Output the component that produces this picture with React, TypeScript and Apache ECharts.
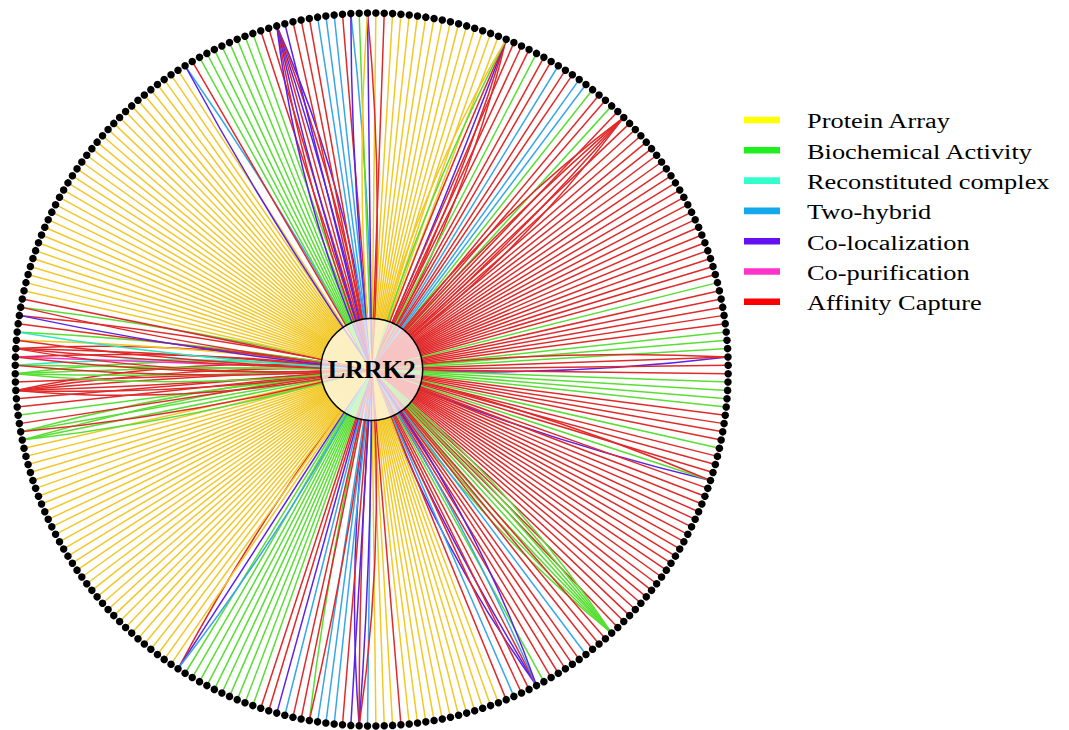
import React, { useEffect, useRef } from "react";
import * as echarts from "echarts";

// Evidence types (legend order)
const evidenceTypes = [
  "Protein Array",
  "Biochemical Activity",
  "Reconstituted complex",
  "Two-hybrid",
  "Co-localization",
  "Co-purification",
  "Affinity Capture",
];
const evidenceCodes = ["Y", "G", "C", "B", "P", "M", "R"];
const legendColors = ["#ffff00", "#1fef1f", "#33ffcc", "#14a8ec", "#6610f2", "#ff33cc", "#ff0000"];
const lineColors = ["#f2c828", "#5ade35", "#2ee8c4", "#38a6e8", "#5a22e8", "#f238c6", "#e02a2a"];

const hubName = "LRRK2";

// One string per interactor, clockwise from 12 o'clock.
// Each letter is one interaction record (evidence code) between LRRK2 and that interactor.
const interactorsNE = [
  "Y", "R", "Y", "Y", "Y", "Y", "Y", "Y", "Y", "Y", "Y", "Y", "Y", "Y", "Y", "Y",
  "RRPRGY", "R", "R", "R", "G", "R", "R", "B", "R", "R", "B", "B", "G", "R", "R", "G", "R", "RRRRR",
  "R", "R", "R", "R", "R", "R", "R", "R", "R", "R", "R", "R", "R", "R", "R", "R", "R", "R", "R", "R", "R", "R",
  "G", "R", "R", "R", "R", "R", "G", "G", "G", "PRR", "R",
];
const interactorsSE = [
  "R", "G", "G", "G", "G", "R", "R", "R", "R", "G", "R", "R", "R", "PGR",
  "R", "R", "R", "R", "R", "R", "R", "R", "R", "R", "R", "R", "R", "R", "R", "R", "R", "R", "R", "R", "R",
  "GGGGGGG", "R", "R", "R", "B", "R", "R", "R", "R", "R", "G", "PPRBP", "R", "R", "B", "R",
  "Y", "Y", "Y", "Y", "Y", "Y", "Y", "Y", "Y", "Y", "Y", "Y", "R", "Y", "Y", "Y",
];
const interactorsSW = [
  "B", "PRPR", "P", "R", "B", "B", "B", "GR", "R", "R", "B", "P", "R", "R",
  "G", "G", "G", "G", "G", "G", "G", "G", "G", "G", "RPB",
  "Y", "Y", "Y", "Y", "Y", "Y", "Y", "Y", "Y", "Y", "Y", "Y", "Y", "Y", "Y", "Y", "Y",
  "Y", "Y", "Y", "Y", "Y", "Y", "Y", "Y", "Y", "Y", "Y", "Y", "Y", "Y", "Y", "Y",
  "GGG", "GGR", "R", "G", "R", "R", "RRRRRR", "R", "GGGG",
];
const interactorsNW = [
  "CGR", "RMR", "RRRR", "YR", "GC", "R", "RP", "GR", "R",
  "Y", "Y", "Y", "Y", "Y", "Y", "Y", "Y", "Y", "Y", "Y", "Y", "Y", "Y", "Y", "Y", "Y",
  "Y", "Y", "Y", "Y", "Y", "Y", "Y", "Y", "Y", "Y", "Y", "Y", "Y", "Y", "Y", "Y", "Y",
  "BP", "R", "G", "G", "G", "G", "G", "G", "G", "G", "R", "R", "PRPRPRP", "P",
  "R", "R", "R", "B", "B", "B", "R", "BP", "G", "RPY",
];

export default function App() {
  const ref = useRef<HTMLDivElement>(null);

  useEffect(() => {
    if (!ref.current) return;
    const chart = echarts.init(ref.current, undefined, { renderer: "svg" });

    const interactors = [...interactorsNE, ...interactorsSE, ...interactorsSW, ...interactorsNW];
    const n = interactors.length;

    // dots: [radius, angle]
    const dotData = interactors.map((_, i) => [1, i + 0.5]);

    // edges: [radius(1), angle, curveness, typeIndex]
    const edgeData: number[][] = [];
    interactors.forEach((ev, i) => {
      const k = ev.length;
      const maxC = Math.min(0.075, 0.014 * k);
      ev.split("").forEach((code, j) => {
        const t = evidenceCodes.indexOf(code);
        const c = k === 1 ? 0 : maxC * ((2 * j) / (k - 1) - 1);
        edgeData.push([1, i + 0.5, c, t]);
      });
    });

    const legendTop = 120;
    const legendGap = 30.3;
    const graphic: any[] = [];
    evidenceTypes.forEach((t, i) => {
      graphic.push({
        type: "rect",
        shape: { x: 744, y: legendTop + i * legendGap - 3.3, width: 36, height: 6.6 },
        style: { fill: legendColors[i] },
      });
      graphic.push({
        type: "text",
        x: 807,
        y: legendTop + 1.5 + i * legendGap,
        scaleX: 1.32,
        style: {
          text: t,
          fontSize: 20,
          fontFamily: "Liberation Serif",
          fill: "#000",
          align: "left",
          verticalAlign: "middle",
        },
      });
    });

    chart.setOption({
      animation: false,
      backgroundColor: "#fff",
      graphic,
      polar: { center: [371.7, 369.5], radius: 356.5 },
      angleAxis: {
        type: "value",
        min: 0,
        max: n,
        startAngle: 90,
        clockwise: true,
        show: false,
        splitLine: { show: false },
      },
      radiusAxis: { type: "value", min: 0, max: 1, show: false, splitLine: { show: false } },
      series: [
        {
          type: "custom",
          coordinateSystem: "polar",
          silent: true,
          z: 1,
          data: edgeData,
          renderItem: (params: any, api: any) => {
            const ang = api.value(1);
            const c = api.value(2);
            const t = api.value(3);
            const p0 = api.coord([0, ang]);
            const p1 = api.coord([1, ang]);
            const cpx = (p0[0] + p1[0]) / 2 - (p0[1] - p1[1]) * c;
            const cpy = (p0[1] + p1[1]) / 2 - (p1[0] - p0[0]) * c;
            return {
              type: "bezierCurve",
              shape: { x1: p0[0], y1: p0[1], x2: p1[0], y2: p1[1], cpx1: cpx, cpy1: cpy },
              style: { stroke: lineColors[t], lineWidth: 1.5, fill: "none" },
            };
          },
        },
        {
          type: "scatter",
          coordinateSystem: "polar",
          silent: true,
          z: 2,
          symbol: "circle",
          symbolSize: 7.5,
          itemStyle: { color: "#000", opacity: 1 },
          data: dotData,
        },
        {
          type: "scatter",
          coordinateSystem: "polar",
          silent: true,
          z: 3,
          symbol: "circle",
          symbolSize: 102,
          itemStyle: { color: "rgba(255,255,255,0.72)", borderColor: "#000", borderWidth: 1.5, opacity: 1 },
          label: {
            show: true,
            position: "inside",
            formatter: hubName,
            fontSize: 26,
            fontWeight: "bold",
            fontFamily: "Liberation Serif",
            color: "#000",
          },
          data: [{ name: hubName, value: [0, 0] }],
        },
      ],
    });

    return () => chart.dispose();
  }, []);

  return (
    <div
      ref={ref}
      style={{ position: "absolute", left: 0, top: 0, width: 1069, height: 730, background: "#fff" }}
    />
  );
}
